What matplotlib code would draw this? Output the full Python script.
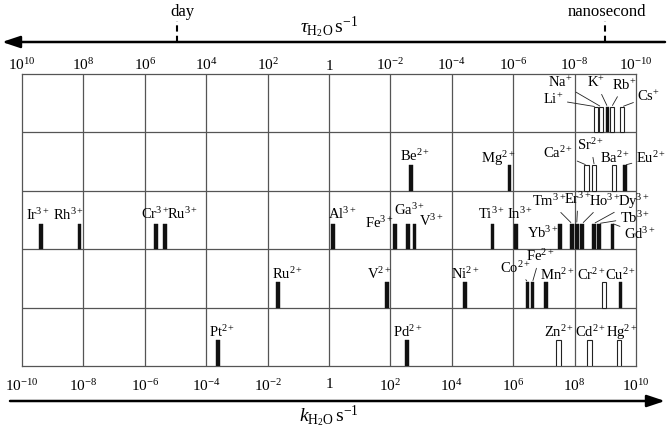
import matplotlib
matplotlib.use("Agg")
import matplotlib.pyplot as plt
from matplotlib.patches import FancyArrowPatch

plt.rcParams['font.family'] = ['Liberation Serif', 'DejaVu Serif']
plt.rcParams['mathtext.fontset'] = 'custom'
plt.rcParams['mathtext.rm'] = 'Liberation Serif'
plt.rcParams['mathtext.it'] = 'Liberation Serif:italic'
plt.rcParams['mathtext.bf'] = 'Liberation Serif:bold'
plt.rcParams['mathtext.fallback'] = 'stix'

# ---------------- data: log10(k_H2O / s^-1) ----------------
row1_ions = ["Li", "Na", "K", "Rb", "Cs"]
row1_charge = ["+", "+", "+", "+", "+"]
row1_logk = [8.69, 8.86, 9.07, 9.21, 9.55]
row1_open = [True, True, False, True, True]

row2_ions = ["Be", "Mg", "Ca", "Sr", "Ba", "Eu"]
row2_charge = ["2+"] * 6
row2_logk = [2.67, 5.88, 8.39, 8.64, 9.28, 9.64]
row2_open = [False, False, True, True, True, False]

row3_ions = ["Ir", "Rh", "Cr", "Ru", "Al", "Fe", "Ga", "V", "Ti", "In", "Yb", "Tm",
             "Er", "Ho", "Dy", "Tb", "Gd"]
row3_charge = ["3+"] * 17
row3_logk = [-9.38, -8.13, -5.64, -5.34, 0.12, 2.16, 2.58, 2.78, 5.33, 6.10, 7.52,
             7.91, 8.07, 8.25, 8.63, 8.79, 9.23]
row3_open = [False] * 17

row4_ions = ["Ru", "V", "Ni", "Co", "Fe", "Mn", "Cr", "Cu"]
row4_charge = ["2+"] * 8
row4_logk = [-1.66, 1.88, 4.44, 6.47, 6.63, 7.06, 8.96, 9.49]
row4_open = [False, False, False, False, False, False, True, False]

row5_ions = ["Pt", "Pd", "Zn", "Cd", "Hg"]
row5_charge = ["2+"] * 5
row5_logk = [-3.62, 2.54, 7.48, 8.49, 9.44]
row5_open = [False, False, True, True, True]

bottom_ticks = list(range(-10, 11, 2))
bottom_labels = ["$10^{-10}$", "$10^{-8}$", "$10^{-6}$", "$10^{-4}$", "$10^{-2}$", "1",
                 "$10^{2}$", "$10^{4}$", "$10^{6}$", "$10^{8}$", "$10^{10}$"]
top_labels = ["$10^{10}$", "$10^{8}$", "$10^{6}$", "$10^{4}$", "$10^{2}$", "1",
              "$10^{-2}$", "$10^{-4}$", "$10^{-6}$", "$10^{-8}$", "$10^{-10}$"]

day_logk = -4.94        # k = 1/day
ns_logk = 9.0           # k = 1/ns

# ---------------- layout (label positions, leader flags) ----------------
label_pos = {
    0: [(7.30, 4.56, True), (7.52, 4.85, True), (8.70, 4.85, True), (9.61, 4.81, True), (10.42, 4.61, True)],
    1: [(2.80, 3.60, False), (5.50, 3.56, False), (7.46, 3.65, True), (8.53, 3.78, True),
        (9.32, 3.56, False), (10.49, 3.56, True)],
    2: [(-9.48, 2.59, False), (-8.50, 2.59, False), (-5.67, 2.60, False), (-4.76, 2.60, False),
        (0.42, 2.60, False), (1.63, 2.45, False), (2.62, 2.67, False), (3.32, 2.49, False),
        (5.28, 2.60, False), (6.22, 2.60, False), (6.97, 2.28, False), (7.17, 2.83, True),
        (8.11, 2.86, True), (8.99, 2.83, True), (9.94, 2.82, True), (9.97, 2.54, True),
        (10.13, 2.26, True)],
    3: [(-1.34, 1.575, False), (1.63, 1.575, False), (4.43, 1.575, False), (6.09, 1.68, True),
        (6.87, 1.88, True), (7.43, 1.56, False), (8.53, 1.56, False), (9.48, 1.56, False)],
    4: [(-3.49, 0.58, False), (2.57, 0.58, False), (7.49, 0.58, False), (8.53, 0.58, False),
        (9.54, 0.58, False)],
}

rows = [(row1_ions, row1_charge, row1_logk, row1_open),
        (row2_ions, row2_charge, row2_logk, row2_open),
        (row3_ions, row3_charge, row3_logk, row3_open),
        (row4_ions, row4_charge, row4_logk, row4_open),
        (row5_ions, row5_charge, row5_logk, row5_open)]

W, H = 667, 434
fig = plt.figure(figsize=(W / 100, H / 100), dpi=100)
ax = fig.add_axes([22 / W, 1 - 366 / H, 614 / W, 292 / H])
ax.set_xlim(-10, 10)
ax.set_ylim(0, 5)

grid_col = '#555555'
for xv in range(-8, 10, 2):
    ax.axvline(xv, color=grid_col, lw=0.9, zorder=1)
for yv in range(1, 5):
    ax.axhline(yv, color=grid_col, lw=0.9, zorder=1)
for s in ax.spines.values():
    s.set_color(grid_col)
    s.set_linewidth(0.9)

bar_h = 0.44
bar_w = 0.12
fs = 10.5
for i, (ions, charges, logk, opn) in enumerate(rows):
    base = 4 - i
    for j, (el, ch, v, o) in enumerate(zip(ions, charges, logk, opn)):
        name = r"$\mathrm{%s}^{%s}$" % (el, ch)
        if o:
            ax.bar(v, bar_h, bottom=base, width=bar_w + 0.02, facecolor='white',
                   edgecolor='#222222', linewidth=0.8, zorder=3)
        else:
            ax.bar(v, bar_h, bottom=base, width=bar_w, facecolor='#111111',
                   edgecolor='#111111', linewidth=0.3, zorder=3)
        lx, ly, leader = label_pos[i][j]
        if leader:
            ax.annotate(name, xy=(v, base + bar_h), xytext=(lx, ly), ha='center', va='center',
                        fontsize=fs, annotation_clip=False, zorder=4,
                        arrowprops=dict(arrowstyle='-', lw=0.6, color='#222222',
                                        shrinkA=1, shrinkB=1))
        else:
            ax.text(lx, ly, name, ha='center', va='center', fontsize=fs, clip_on=False, zorder=4)

# bottom axis ticks
ax.set_xticks(bottom_ticks)
ax.set_xticklabels(bottom_labels, fontsize=11)
ax.set_yticks([])
ax.tick_params(axis='x', length=0, pad=9)

# top axis ticks (tau = 1/k)
sec = ax.secondary_xaxis('top')
sec.set_xticks(bottom_ticks)
sec.set_xticklabels(top_labels, fontsize=11)
sec.tick_params(axis='x', length=0, pad=1)
sec.spines['top'].set_visible(False)

# arrows
yb = 1 - 401 / H
fig.add_artist(FancyArrowPatch((10 / W, yb), (665 / W, yb), transform=fig.transFigure,
                               arrowstyle='-|>,head_length=0.9,head_width=0.3', mutation_scale=12,
                               lw=1.8, color='black', shrinkA=0, shrinkB=0))
yt = 1 - 42 / H
fig.add_artist(FancyArrowPatch((665 / W, yt), (2 / W, yt), transform=fig.transFigure,
                               arrowstyle='-|>,head_length=0.9,head_width=0.3', mutation_scale=12,
                               lw=1.8, color='black', shrinkA=0, shrinkB=0))

# day / nanosecond markers
tr = ax.get_xaxis_transform()
y_arrow = (366 - 42) / 292
y_top = (366 - 21) / 292
for xv in (day_logk, ns_logk):
    ax.plot([xv, xv], [y_arrow, y_top], transform=tr, ls=(0, (3, 2)), lw=1.5, color='black',
            clip_on=False)
ax.text(day_logk + 0.15, (366 - 12) / 292, "day", transform=tr, ha='center', va='center', fontsize=12)
ax.text(ns_logk + 0.05, (366 - 12) / 292, "nanosecond", transform=tr, ha='center', va='center', fontsize=12)

# axis titles
ax.text(0.0, (366 - 27) / 292, r"$\tau_{\mathrm{H_2O}}\,\mathrm{s}^{-1}$", transform=tr,
        ha='center', va='center', fontsize=14)
ax.text(0.0, (366 - 416) / 292, r"$k_{\mathrm{H_2O}}\,\mathrm{s}^{-1}$", transform=tr,
        ha='center', va='center', fontsize=14)

fig.savefig("out.png", dpi=100)
